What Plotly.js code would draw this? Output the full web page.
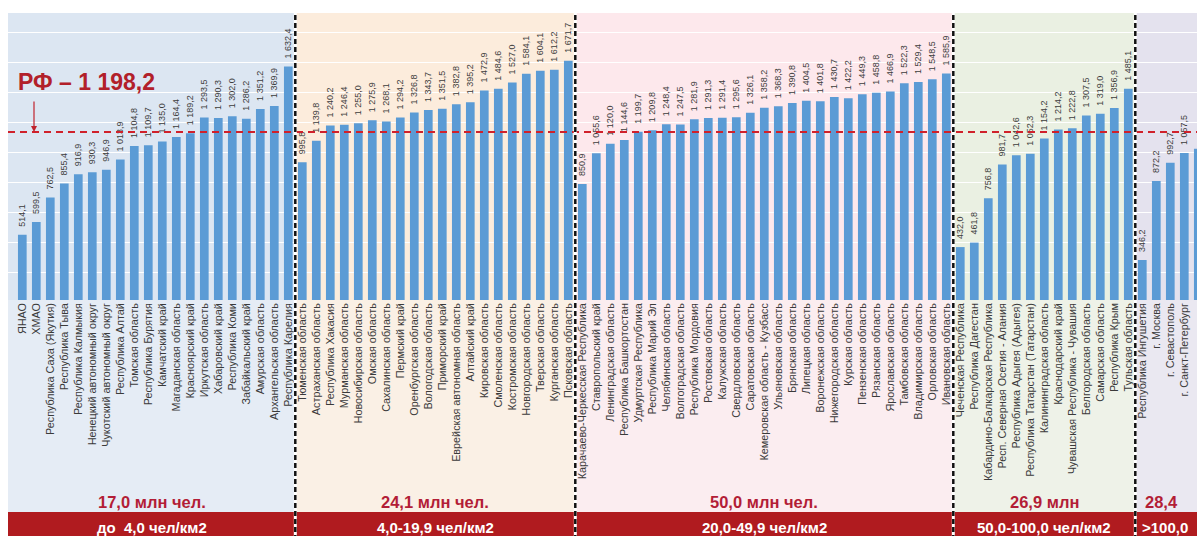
<!DOCTYPE html>
<html>
<head>
<meta charset="utf-8">
<script src="https://cdn.plot.ly/plotly-3.0.1.min.js"></script>
<style>
  html, body { margin: 0; padding: 0; background: #ffffff; }
  #chart { width: 1197px; height: 536px; }
</style>
</head>
<body>
<div id="chart"></div>
<script>
// Regions grouped by population density band, with their values
const namesBand1 = ['ЯНАО', 'ХМАО', 'Республика Саха (Якутия)', 'Республика Тыва', 'Республика Калмыкия',
  'Ненецкий автономный округ', 'Чукотский автономный округ', 'Республика Алтай', 'Томская область',
  'Республика Бурятия', 'Камчатский край', 'Магаданская область', 'Красноярский край', 'Иркутская область',
  'Хабаровский край', 'Республика Коми', 'Забайкальский край', 'Амурская область', 'Архангельская область',
  'Республика Карелия'];
const valuesBand1 = [514.1, 599.5, 762.5, 855.4, 916.9, 930.3, 946.9, 1013.9, 1104.8, 1109.7, 1135.0, 1164.4,
  1189.2, 1293.5, 1290.3, 1302.0, 1286.2, 1351.2, 1369.9, 1632.4];

const namesBand2 = ['Тюменская область', 'Астраханская область', 'Республика Хакасия', 'Мурманская область',
  'Новосибирская область', 'Омская область', 'Сахалинская область', 'Пермский край', 'Оренбургская область',
  'Вологодская область', 'Приморский край', 'Еврейская автономная область', 'Алтайский край', 'Кировская область',
  'Смоленская область', 'Костромская область', 'Новгородская область', 'Тверская область', 'Курганская область',
  'Псковская область'];
const valuesBand2 = [995.8, 1139.8, 1240.2, 1246.4, 1255.0, 1275.9, 1268.1, 1294.2, 1326.8, 1343.7, 1351.5,
  1382.8, 1395.2, 1472.9, 1484.6, 1527.0, 1584.1, 1604.1, 1612.2, 1671.7];

const namesBand3 = ['Карачаево-Черкесская Республика', 'Ставропольский край', 'Ленинградская область',
  'Республика Башкортостан', 'Удмуртская Республика', 'Республика Марий Эл', 'Челябинская область',
  'Волгоградская область', 'Республика Мордовия', 'Ростовская область', 'Калужская область',
  'Свердловская область', 'Саратовская область', 'Кемеровская область - Кузбасс', 'Ульяновская область',
  'Брянская область', 'Липецкая область', 'Воронежская область', 'Нижегородская область', 'Курская область',
  'Пензенская область', 'Рязанская область', 'Ярославская область', 'Тамбовская область',
  'Владимирская область', 'Орловская область', 'Ивановская область'];
const valuesBand3 = [850.9, 1055.6, 1120.0, 1144.6, 1199.7, 1209.8, 1248.4, 1247.5, 1281.9, 1291.3, 1291.4,
  1295.6, 1326.1, 1358.2, 1368.3, 1390.8, 1404.5, 1401.8, 1430.7, 1422.2, 1449.3, 1458.8, 1466.9, 1522.3,
  1529.4, 1548.5, 1585.9];

const namesBand4 = ['Чеченская Республика', 'Республика Дагестан', 'Кабардино-Балкарская Республика',
  'Респ. Северная Осетия - Алания', 'Республика Адыгея (Адыгея)', 'Республика Татарстан (Татарстан)',
  'Калининградская область', 'Краснодарский край', 'Чувашская Республика - Чувашия', 'Белгородская область',
  'Самарская область', 'Республика Крым', 'Тульская область'];
const valuesBand4 = [432.0, 461.8, 756.8, 981.7, 1042.6, 1052.3, 1154.2, 1214.2, 1222.8, 1307.5, 1319.0,
  1356.9, 1485.1];

const namesBand5 = ['Республика Ингушетия', 'г. Москва', 'г. Севастополь', 'г. Санкт-Петербург',
  'Московская область'];
const valuesBand5 = [346.2, 872.2, 992.7, 1057.5, 1085.5];

const russiaAverage = 1198.2;
const averageLabel = 'РФ – 1 198,2';

const bandPopulation = ['17,0 млн чел.', '24,1 млн чел.', '50,0 млн чел.', '26,9 млн', '28,4'];
const bandDensity = ['до  4,0 чел/км2', '4,0-19,9 чел/км2', '20,0-49,9 чел/км2', '50,0-100,0 чел/км2', '>100,0'];

// Band fills: plot part and label part
const bandFillTop = ['#dce6f2', '#fcecdc', '#fde8ec', '#eaf0e2', '#e4e2ee'];
const bandFillLow = ['#e5ecf5', '#faf0e5', '#fbedf0', '#eef2e8', '#eae8f1'];

// ---------------------------------------------------------------
const bands = [
  [namesBand1, valuesBand1], [namesBand2, valuesBand2], [namesBand3, valuesBand3],
  [namesBand4, valuesBand4], [namesBand5, valuesBand5]
];
const names = [].concat(...bands.map(b => b[0]));
const values = [].concat(...bands.map(b => b[1]));

function fmt(v) {
  const parts = v.toFixed(1).split('.');
  const intPart = parts[0].replace(/\B(?=(\d{3})+(?!\d))/g, ' ');
  return intPart + ',' + parts[1];
}
const labels = values.map(v => '\u00a0\u00a0' + fmt(v));

// Geometry
const W = 1197, H = 536;
const mL = 8, mT = 13, mB = 236;
const plotH = H - mT - mB;           // 287
const xr = [-1.0214, 83.907];
const yr = [80.1, 1988.9];
const px2py = py => (H - mB - py) / plotH;           // page y -> paper y
const idx2px = i => (i - xr[0]) / (xr[1] - xr[0]);   // category index -> paper x
const px2px = px => (px - mL) / (W - mL);            // page x -> paper x

// band boundaries in category index
const starts = [];
let acc = 0;
bands.forEach(b => { starts.push(acc); acc += b[0].length; });
const bounds = starts.map((s, k) => [s - 0.5, s + bands[k][0].length - 0.5]);

const shapes = [];
const annotations = [];

bounds.forEach((bd, k) => {
  const x0 = k === 0 ? 0 : idx2px(bd[0]);
  const x1 = k === bounds.length - 1 ? 1.02 : idx2px(bd[1]);
  shapes.push({ type: 'rect', xref: 'paper', yref: 'paper', x0: x0, x1: x1, y0: 0, y1: 1,
    fillcolor: bandFillTop[k], line: { width: 0 }, layer: 'below' });
  shapes.push({ type: 'rect', xref: 'paper', yref: 'paper', x0: x0, x1: x1, y0: px2py(512), y1: 0,
    fillcolor: bandFillLow[k], line: { width: 0 }, layer: 'below' });
});

// dark red strip along the bottom
shapes.push({ type: 'rect', xref: 'paper', yref: 'paper', x0: 0, x1: 1.02, y0: px2py(540), y1: px2py(512),
  fillcolor: '#b01b1f', line: { width: 0 }, layer: 'below' });

// national average line
shapes.push({ type: 'line', xref: 'paper', yref: 'y', x0: 0, x1: 1, y0: russiaAverage, y1: russiaAverage,
  line: { color: '#d0212b', width: 2, dash: '7px,5px' }, layer: 'above' });

// dashed separators between density bands
bounds.slice(1).forEach(bd => {
  const x = idx2px(bd[0]);
  shapes.push({ type: 'line', xref: 'paper', yref: 'paper', x0: x, x1: x, y0: px2py(540), y1: 1,
    line: { color: '#ffffff', width: 3 }, layer: 'above' });
  shapes.push({ type: 'line', xref: 'paper', yref: 'paper', x0: x, x1: x, y0: px2py(540), y1: 1,
    line: { color: '#111111', width: 2.5, dash: '5px,3px' }, layer: 'above' });
});

// population and density captions
bounds.forEach((bd, k) => {
  const last = k === bounds.length - 1;
  const cx = k === 0 ? (0 + idx2px(bd[1])) / 2 : (idx2px(bd[0]) + idx2px(bd[1])) / 2;
  annotations.push({ xref: 'paper', yref: 'paper', x: last ? px2px(1143) : cx, y: px2py(502),
    xanchor: last ? 'left' : 'center', yanchor: 'middle', showarrow: false, text: '<b>' + bandPopulation[k] + '</b>',
    font: { family: 'Liberation Sans, Arial, sans-serif', size: 16.5, color: '#b31d36' } });
  annotations.push({ xref: 'paper', yref: 'paper', x: last ? px2px(1140) : cx, y: px2py(527),
    xanchor: last ? 'left' : 'center', yanchor: 'middle', showarrow: false, text: '<b>' + bandDensity[k] + '</b>',
    font: { family: 'Liberation Sans, Arial, sans-serif', size: 15, color: '#ffffff' } });
});

// average caption and arrow
annotations.push({ xref: 'paper', yref: 'paper', x: px2px(16), y: px2py(82), xanchor: 'left', yanchor: 'middle',
  showarrow: false, text: '<b>' + averageLabel + '</b>',
  font: { family: 'Liberation Sans, Arial, sans-serif', size: 23, color: '#b2202a' } });
annotations.push({ xref: 'paper', yref: 'y', x: px2px(34), y: russiaAverage, text: '', showarrow: true,
  ax: 0, ay: -32, arrowhead: 2, arrowsize: 1, arrowwidth: 1.2, arrowcolor: '#c0232d', standoff: 0 });

const trace = {
  type: 'bar',
  x: names,
  y: values,
  text: labels,
  textposition: 'outside',
  textangle: -90,
  constraintext: 'none',
  cliponaxis: false,
  textfont: { family: 'Liberation Sans, Arial, sans-serif', size: 9, color: '#3c3c3c' },
  marker: { color: '#5b9bd5', line: { width: 0 } },
  hoverinfo: 'x+y'
};

const layout = {
  width: W, height: H,
  margin: { l: mL, r: 0, t: mT, b: mB, pad: 0 },
  paper_bgcolor: '#ffffff',
  plot_bgcolor: 'rgba(0,0,0,0)',
  showlegend: false,
  bargap: 0.38,
  xaxis: {
    type: 'category', range: xr, showgrid: false, zeroline: false, showline: false, ticks: '',
    tickangle: -90, automargin: false,
    tickfont: { family: 'Liberation Sans, Arial, sans-serif', size: 10.8, color: '#3a3a3a' }
  },
  yaxis: {
    range: yr, showticklabels: false, zeroline: false, showline: false, ticks: '',
    showgrid: true, gridcolor: '#ffffff', gridwidth: 1, tick0: 262, dtick: 200, automargin: false
  },
  shapes: shapes,
  annotations: annotations
};

Plotly.newPlot('chart', [trace], layout, { displayModeBar: false, staticPlot: true });
</script>
</body>
</html>
